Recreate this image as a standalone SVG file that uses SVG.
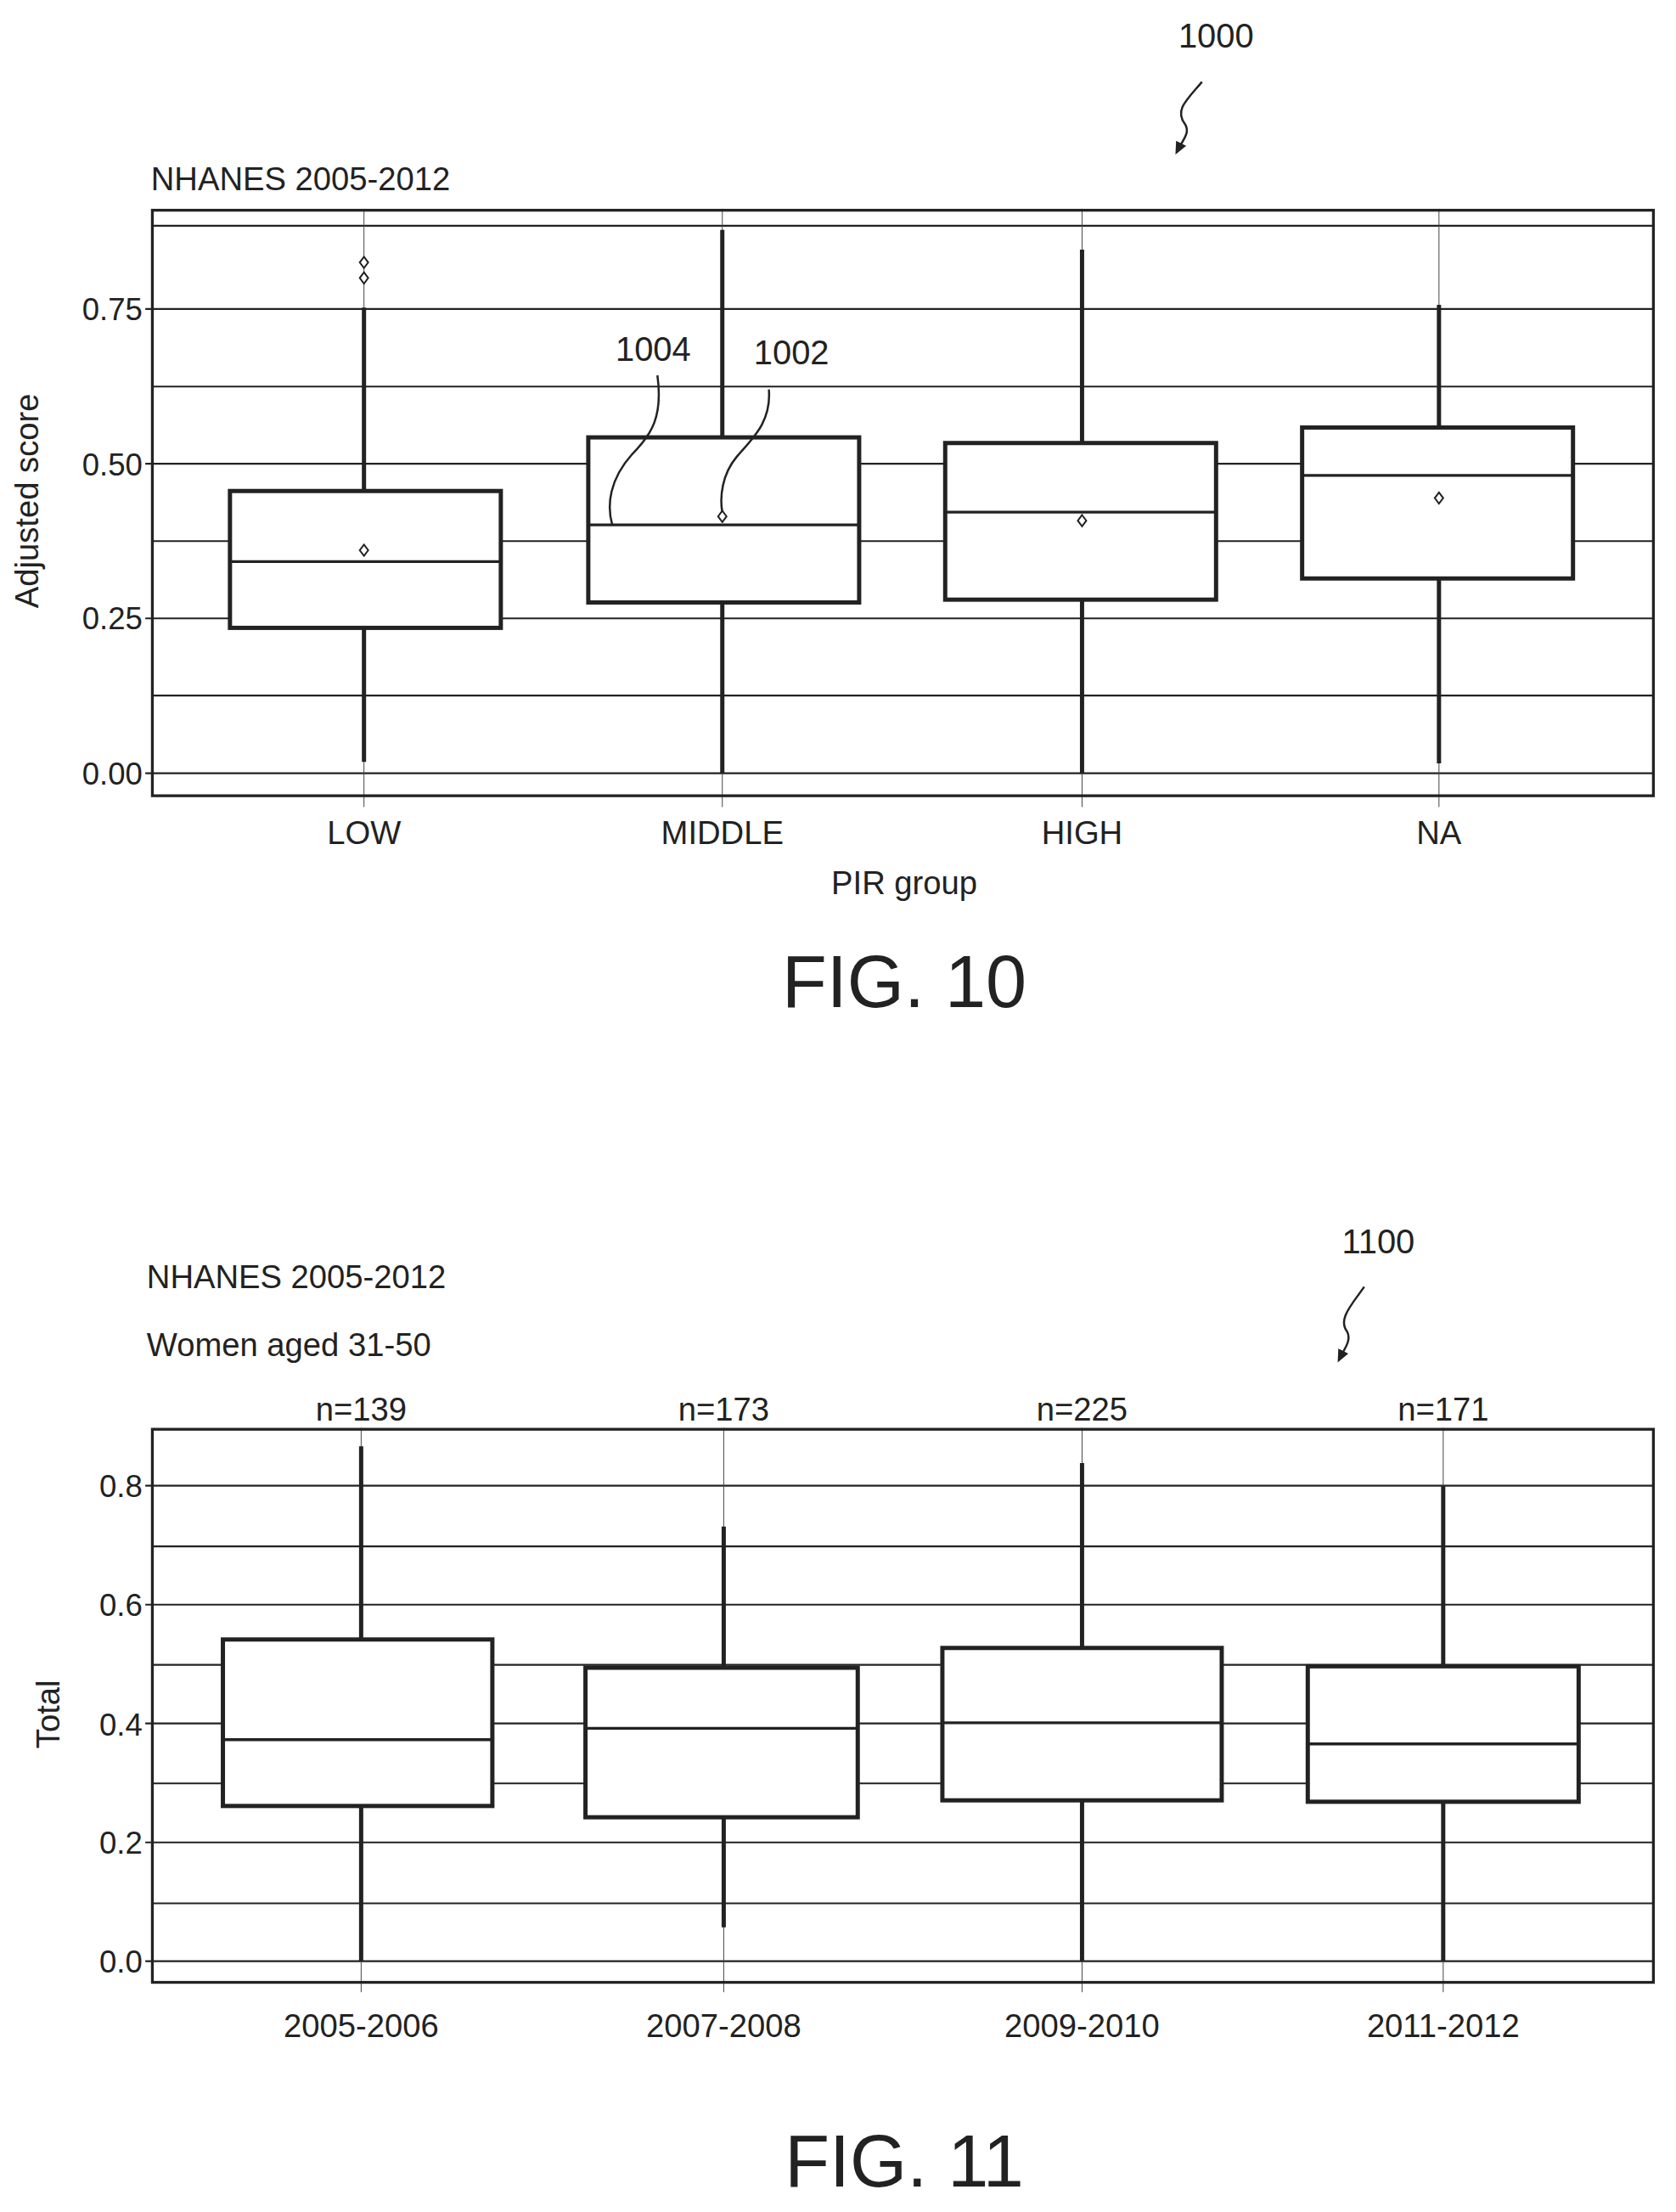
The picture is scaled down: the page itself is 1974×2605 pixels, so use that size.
<svg xmlns="http://www.w3.org/2000/svg" width="1974" height="2605" viewBox="0 0 1974 2605">
<style>
text{font-family:"Liberation Sans",Arial,sans-serif;fill:#222}
.t{font-size:23px}
.ax{font-size:23px;text-anchor:middle}
.yl{font-size:22px;text-anchor:end}
.fig{font-size:52px;text-anchor:middle}
.grid{stroke:#222;stroke-width:1.3;fill:none}
.vg{stroke:#444;stroke-width:0.6;fill:none}
.frame{stroke:#222;stroke-width:2;fill:none}
.box{stroke:#222;stroke-width:3;fill:#fff}
.med{stroke:#222;stroke-width:2;fill:none}
.wh{stroke:#222;stroke-width:3;fill:none}
.dm{stroke:#222;stroke-width:1.2;fill:#fff}
.ld{stroke:#222;stroke-width:1.5;fill:none}
</style>
<defs>
<marker id="ah" markerWidth="10" markerHeight="10" refX="5" refY="5" orient="auto" markerUnits="userSpaceOnUse"><path d="M0,1 L9,5 L0,9 Z" fill="#222"/></marker>
<path id="dia" d="M0,-4 L3,0 L0,4 L-3,0 Z"/>
</defs>
<rect width="1974" height="2605" fill="#fff"/>
<g transform="scale(1.6616)">
<!-- FIG 10 -->
<g id="fig10">
<text x="862" y="34" class="ax" style="font-size:24px">1000</text>
<path class="ld" d="M852,58 C842,70 832,78 840,88 C844,94 838,100 835,106" marker-end="url(#ah)"/>
<text x="107" y="135" class="t">NHANES 2005-2012</text>
<g id="grid10">
<line class="grid" x1="108" y1="160" x2="1172" y2="160"/>
<line class="grid" x1="108" y1="219" x2="1172" y2="219"/>
<line class="grid" x1="108" y1="274" x2="1172" y2="274"/>
<line class="grid" x1="108" y1="328.7" x2="1172" y2="328.7"/>
<line class="grid" x1="108" y1="383.5" x2="1172" y2="383.5"/>
<line class="grid" x1="108" y1="438.3" x2="1172" y2="438.3"/>
<line class="grid" x1="108" y1="493" x2="1172" y2="493"/>
<line class="grid" x1="108" y1="548" x2="1172" y2="548"/>
<line class="vg" x1="258" y1="148" x2="258" y2="572"/>
<line class="vg" x1="512" y1="148" x2="512" y2="572"/>
<line class="vg" x1="767" y1="148" x2="767" y2="572"/>
<line class="vg" x1="1020" y1="148" x2="1020" y2="572"/>
<rect class="frame" x="108" y="149" width="1064" height="415"/>
<path class="grid" d="M103,219H108M103,328.7H108M103,438.3H108M103,548H108"/>
</g>
<text class="yl" x="101" y="227">0.75</text>
<text class="yl" x="101" y="337">0.50</text>
<text class="yl" x="101" y="446">0.25</text>
<text class="yl" x="101" y="556">0.00</text>
<text class="ax" transform="translate(27,355) rotate(-90)">Adjusted score</text>
<g id="low"><path class="wh" d="M258,218V348M258,445V540"/><rect class="box" x="163" y="348" width="192" height="97"/><line class="med" x1="163" y1="398" x2="355" y2="398"/><use href="#dia" x="258" y="390" class="dm"/><use href="#dia" x="258" y="186" class="dm"/><use href="#dia" x="258" y="197" class="dm"/></g>
<g id="middle"><path class="wh" d="M512,163V310M512,427V548"/><rect class="box" x="417" y="310" width="192" height="117"/><line class="med" x1="417" y1="372" x2="609" y2="372"/><use href="#dia" x="512" y="366" class="dm"/></g>
<g id="high"><path class="wh" d="M767,177V314M767,425V548"/><rect class="box" x="670" y="314" width="192" height="111"/><line class="med" x1="670" y1="363" x2="862" y2="363"/><use href="#dia" x="767" y="369" class="dm"/></g>
<g id="na"><path class="wh" d="M1020,216V303M1020,410V541"/><rect class="box" x="923" y="303" width="192" height="107"/><line class="med" x1="923" y1="337" x2="1115" y2="337"/><use href="#dia" x="1020" y="353" class="dm"/></g>
<g id="leaders">
<text x="463" y="256" class="ax" style="font-size:24px">1004</text>
<text x="561" y="258" class="ax" style="font-size:24px">1002</text>
<path class="ld" d="M466,266 C470,295 462,308 448,322 C432,340 430,358 434,372"/>
<path class="ld" d="M545,276 C547,300 532,312 522,324 C512,336 510,352 512,363"/>
</g>
<text class="ax" x="258" y="598">LOW</text>
<text class="ax" x="512" y="598">MIDDLE</text>
<text class="ax" x="767" y="598">HIGH</text>
<text class="ax" x="1020" y="598">NA</text>
<text class="ax" x="641" y="634">PIR group</text>
<text class="fig" x="641" y="714">FIG. 10</text>
</g>
<!-- FIG 11 -->
<g id="fig11">
<text x="977" y="888" class="ax" style="font-size:24px">1100</text>
<path class="ld" d="M967,912 C958,925 948,935 955,944 C958,950 953,956 950,962" marker-end="url(#ah)"/>
<text x="104" y="913" class="t">NHANES 2005-2012</text>
<text x="104" y="961" class="t">Women aged 31-50</text>
<text class="ax" x="256" y="1007">n=139</text>
<text class="ax" x="513" y="1007">n=173</text>
<text class="ax" x="767" y="1007">n=225</text>
<text class="ax" x="1023" y="1007">n=171</text>
<g id="grid11">
<line class="grid" x1="108" y1="1053" x2="1172" y2="1053"/>
<line class="grid" x1="108" y1="1096" x2="1172" y2="1096"/>
<line class="grid" x1="108" y1="1137.3" x2="1172" y2="1137.3"/>
<line class="grid" x1="108" y1="1180" x2="1172" y2="1180"/>
<line class="grid" x1="108" y1="1221.5" x2="1172" y2="1221.5"/>
<line class="grid" x1="108" y1="1264" x2="1172" y2="1264"/>
<line class="grid" x1="108" y1="1305.8" x2="1172" y2="1305.8"/>
<line class="grid" x1="108" y1="1349" x2="1172" y2="1349"/>
<line class="grid" x1="108" y1="1390" x2="1172" y2="1390"/>
<line class="vg" x1="256" y1="1012" x2="256" y2="1412"/>
<line class="vg" x1="513" y1="1012" x2="513" y2="1412"/>
<line class="vg" x1="767" y1="1012" x2="767" y2="1412"/>
<line class="vg" x1="1023" y1="1012" x2="1023" y2="1412"/>
<rect class="frame" x="108" y="1013" width="1064" height="392"/>
<path class="grid" d="M103,1053H108M103,1137.3H108M103,1221.5H108M103,1305.8H108M103,1390H108"/>
</g>
<text class="yl" x="101" y="1061">0.8</text>
<text class="yl" x="101" y="1145">0.6</text>
<text class="yl" x="101" y="1230">0.4</text>
<text class="yl" x="101" y="1314">0.2</text>
<text class="yl" x="101" y="1398">0.0</text>
<text class="ax" transform="translate(42,1215) rotate(-90)">Total</text>
<g id="y2005"><path class="wh" d="M256,1025V1162M256,1280V1390"/><rect class="box" x="158" y="1162" width="191" height="118"/><line class="med" x1="158" y1="1233" x2="349" y2="1233"/></g>
<g id="y2007"><path class="wh" d="M513,1082V1182M513,1288V1366"/><rect class="box" x="415" y="1182" width="193" height="106"/><line class="med" x1="415" y1="1225" x2="608" y2="1225"/></g>
<g id="y2009"><path class="wh" d="M767,1037V1168M767,1276V1390"/><rect class="box" x="668" y="1168" width="198" height="108"/><line class="med" x1="668" y1="1221" x2="866" y2="1221"/></g>
<g id="y2011"><path class="wh" d="M1023,1053V1181M1023,1277V1390"/><rect class="box" x="927" y="1181" width="192" height="96"/><line class="med" x1="927" y1="1236" x2="1119" y2="1236"/></g>
<text class="ax" x="256" y="1444">2005-2006</text>
<text class="ax" x="513" y="1444">2007-2008</text>
<text class="ax" x="767" y="1444">2009-2010</text>
<text class="ax" x="1023" y="1444">2011-2012</text>
<text class="fig" x="641" y="1550">FIG. 11</text>
</g>
</g>
</svg>
